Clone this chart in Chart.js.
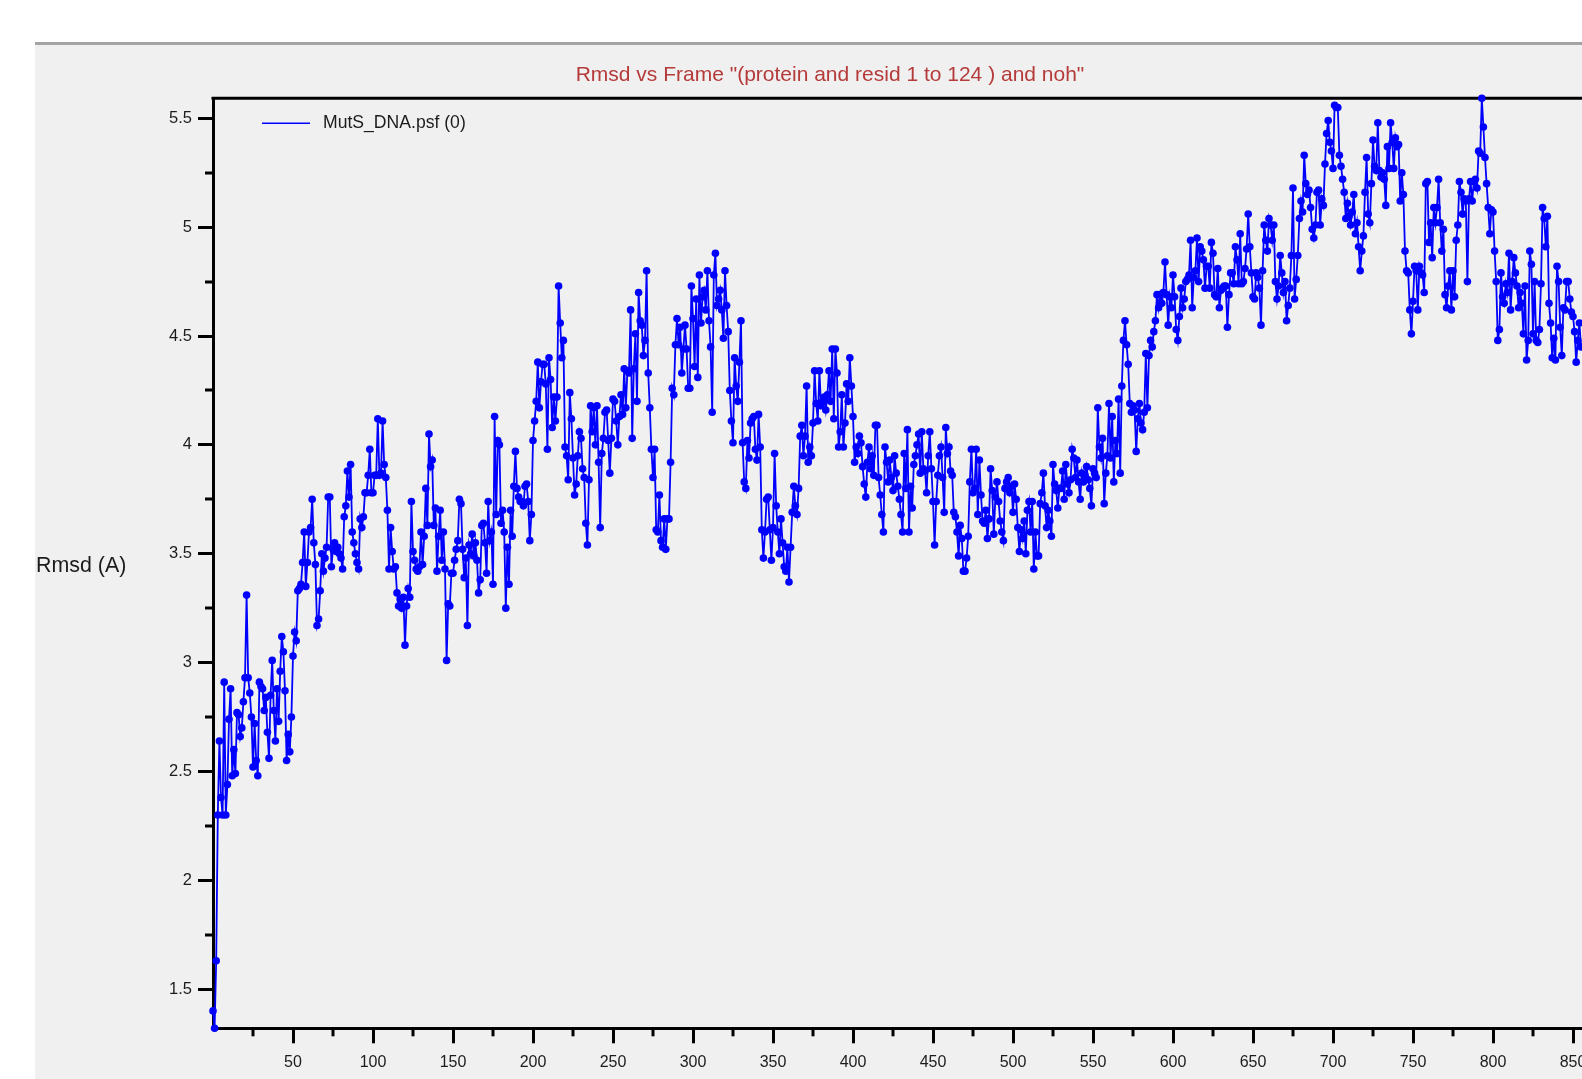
<!DOCTYPE html>
<html>
<head>
<meta charset="utf-8">
<script src="https://cdn.jsdelivr.net/npm/chart.js@4.4.1/dist/chart.umd.min.js"></script>
<style>
  html, body { margin: 0; padding: 0; background: #ffffff; overflow: hidden; width: 1582px; height: 1079px; }
  #rule { position: absolute; left: 35px; top: 42px; width: 1600px; height: 3px; background: #a4a4a4; }
  #panel { position: absolute; left: 35px; top: 45px; width: 1590px; height: 1034px; background: #f0f0f0; }
  canvas { display: block; }
</style>
</head>
<body>
<div id="rule"></div>
<div id="panel"><canvas id="rmsdChart" width="1590" height="1034"></canvas></div>
<script>
// RMSD (Angstrom) per trajectory frame, residues 1-124, heavy atoms
const rmsd = [
  1.40, 1.32, 1.63, 2.30, 2.64, 2.38, 2.30, 2.91, 2.30, 2.44,
  2.74, 2.88, 2.48, 2.60, 2.49, 2.77, 2.76, 2.66, 2.70, 2.82,
  2.93, 3.31, 2.93, 2.86, 2.75, 2.52, 2.72, 2.55, 2.48, 2.91,
  2.89, 2.88, 2.78, 2.84, 2.68, 2.56, 2.85, 3.01, 2.78, 2.64,
  2.88, 2.73, 2.96, 3.12, 3.05, 2.87, 2.55, 2.67, 2.59, 2.75,
  3.03, 3.14, 3.10, 3.33, 3.34, 3.36, 3.46, 3.60, 3.35, 3.46,
  3.60, 3.62, 3.75, 3.55, 3.45, 3.17, 3.20, 3.33, 3.50, 3.42,
  3.48, 3.53, 3.76, 3.76, 3.44, 3.52, 3.55, 3.51, 3.53, 3.50,
  3.48, 3.43, 3.67, 3.72, 3.88, 3.76, 3.91, 3.60, 3.55, 3.50,
  3.46, 3.43, 3.66, 3.62, 3.67, 3.78, 3.78, 3.86, 3.98, 3.78,
  3.78, 3.86, 3.86, 4.12, 3.86, 3.87, 4.11, 3.91, 3.85, 3.70,
  3.43, 3.62, 3.51, 3.43, 3.44, 3.32, 3.26, 3.29, 3.25, 3.30,
  3.08, 3.26, 3.34, 3.30, 3.74, 3.51, 3.47, 3.43, 3.42, 3.44,
  3.60, 3.45, 3.58, 3.80, 3.63, 4.05, 3.90, 3.93, 3.63, 3.71,
  3.42, 3.58, 3.70, 3.47, 3.60, 3.43, 3.01, 3.27, 3.26, 3.41,
  3.41, 3.47, 3.52, 3.56, 3.75, 3.73, 3.52, 3.39, 3.48, 3.17,
  3.54, 3.50, 3.59, 3.49, 3.55, 3.47, 3.32, 3.38, 3.63, 3.64,
  3.55, 3.41, 3.74, 3.56, 3.60, 3.36, 4.13, 3.68, 4.02, 4.00,
  3.64, 3.70, 3.60, 3.25, 3.53, 3.36, 3.70, 3.58, 3.81, 3.97,
  3.80, 3.76, 3.74, 3.74, 3.72, 3.81, 3.82, 3.74, 3.56, 3.68,
  4.02, 4.11, 4.20, 4.38, 4.17, 4.29, 4.37, 4.37, 4.28, 3.98,
  4.40, 4.30, 4.08, 4.22, 4.11, 4.22, 4.73, 4.56, 4.40, 4.48,
  3.99, 3.95, 3.84, 4.24, 4.12, 3.94, 3.77, 3.82, 3.95, 4.06,
  4.03, 3.89, 3.85, 3.64, 3.54, 3.84, 4.18, 4.06, 4.17, 4.00,
  4.18, 3.92, 3.62, 3.96, 4.03, 4.15, 4.16, 4.02, 3.87, 4.03,
  4.21, 4.20, 4.11, 4.00, 4.13, 4.23, 4.14, 4.35, 4.17, 4.34,
  4.33, 4.62, 4.03, 4.35, 4.51, 4.20, 4.70, 4.57, 4.55, 4.41,
  4.48, 4.80, 4.33, 4.17, 3.98, 3.85, 3.98, 3.61, 3.60, 3.77,
  3.56, 3.53, 3.66, 3.52, 3.66, 3.66, 3.92, 4.26, 4.23, 4.46,
  4.58, 4.46, 4.54, 4.33, 4.44, 4.55, 4.44, 4.26, 4.26, 4.73,
  4.58, 4.36, 4.67, 4.31, 4.78, 4.56, 4.68, 4.71, 4.62, 4.80,
  4.57, 4.45, 4.15, 4.78, 4.88, 4.64, 4.67, 4.71, 4.62, 4.49,
  4.80, 4.64, 4.52, 4.25, 4.11, 4.01, 4.40, 4.27, 4.20, 4.38,
  4.57, 4.01, 3.83, 3.80, 4.02, 3.94, 4.10, 4.12, 4.13, 3.98,
  3.93, 4.14, 3.99, 3.61, 3.48, 3.60, 3.75, 3.76, 3.61, 3.47,
  3.62, 3.96, 3.72, 3.60, 3.50, 3.66, 3.55, 3.44, 3.42, 3.53,
  3.37, 3.53, 3.69, 3.81, 3.72, 3.68, 3.80, 4.04, 4.09, 3.95,
  4.04, 4.27, 3.92, 3.99, 3.95, 4.10, 4.34, 4.19, 4.11, 4.34,
  4.18, 4.20, 4.22, 4.16, 4.23, 4.34, 4.20, 4.44, 4.12, 4.44,
  4.33, 3.99, 4.06, 4.23, 3.99, 4.10, 4.28, 4.20, 4.40, 4.27,
  4.13, 3.92, 3.99, 3.96, 4.04, 4.01, 3.90, 3.82, 3.76, 3.92,
  3.99, 3.89, 3.95, 3.86, 4.09, 4.09, 3.85, 3.77, 3.68, 3.60,
  3.99, 3.92, 3.83, 3.93, 3.85, 3.79, 3.95, 3.87, 3.81, 3.75,
  3.68, 3.60, 3.96, 3.80, 4.07, 3.60, 3.81, 3.71, 3.91, 3.95,
  4.00, 4.05, 3.87, 4.06, 3.89, 3.88, 3.78, 3.95, 4.06, 3.89,
  3.74, 3.54, 3.74, 3.86, 3.95, 3.99, 3.85, 3.69, 4.08, 3.96,
  3.99, 3.88, 3.86, 3.69, 3.67, 3.60, 3.49, 3.63, 3.57, 3.42,
  3.42, 3.48, 3.58, 3.83, 3.98, 3.78, 3.80, 3.98, 3.68, 3.93,
  3.77, 3.65, 3.64, 3.70, 3.57, 3.66, 3.89, 3.79, 3.59, 3.76,
  3.83, 3.74, 3.65, 3.60, 3.56, 3.80, 3.83, 3.85, 3.78, 3.81,
  3.69, 3.82, 3.75, 3.62, 3.51, 3.61, 3.57, 3.65, 3.50, 3.70,
  3.74, 3.60, 3.74, 3.43, 3.60, 3.49, 3.49, 3.73, 3.78, 3.87,
  3.72, 3.62, 3.70, 3.65, 3.58, 3.91, 3.82, 3.79, 3.71, 3.80,
  3.80, 3.88, 3.75, 3.91, 3.82, 3.78, 3.84, 3.98, 3.94, 3.85,
  3.93, 3.83, 3.75, 3.87, 3.83, 3.86, 3.90, 3.84, 3.80, 3.72,
  3.89, 3.87, 3.85, 4.17, 3.99, 3.94, 4.03, 3.73, 3.87, 3.95,
  4.19, 3.94, 4.13, 3.83, 4.02, 3.96, 4.21, 3.87, 4.27, 4.48,
  4.57, 4.46, 4.37, 4.19, 4.15, 4.18, 4.16, 3.97, 4.12, 4.19,
  4.10, 4.07, 4.15, 4.42, 4.17, 4.41, 4.48, 4.45, 4.52, 4.57,
  4.69, 4.63, 4.69, 4.65, 4.70, 4.84, 4.69, 4.55, 4.68, 4.63,
  4.78, 4.68, 4.53, 4.48, 4.59, 4.72, 4.63, 4.67, 4.75, 4.76,
  4.78, 4.94, 4.63, 4.77, 4.80, 4.95, 4.75, 4.91, 4.89, 4.85,
  4.72, 4.82, 4.82, 4.72, 4.93, 4.88, 4.69, 4.68, 4.81, 4.63,
  4.71, 4.72, 4.73, 4.73, 4.54, 4.69, 4.79, 4.79, 4.74, 4.91,
  4.85, 4.74, 4.97, 4.74, 4.75, 4.81, 4.90, 5.06, 4.91, 4.79,
  4.68, 4.67, 4.79, 4.77, 4.72, 4.55, 4.80, 5.01, 4.94, 4.89,
  5.04, 5.01, 4.94, 5.01, 4.75, 4.67, 4.73, 4.87, 4.79, 4.70,
  4.75, 4.57, 4.64, 4.72, 4.87, 5.18, 4.67, 4.76, 4.87, 5.04,
  5.12, 5.07, 5.33, 5.20, 5.15, 5.17, 5.09, 4.99, 4.95, 5.01,
  5.16, 5.17, 5.01, 5.13, 5.10, 5.29, 5.43, 5.49, 5.39, 5.35,
  5.27, 5.56, 5.55, 5.55, 5.33, 5.28, 5.22, 5.16, 5.04, 5.11,
  5.05, 5.01, 5.07, 5.15, 4.97, 5.02, 4.91, 4.80, 4.89, 4.96,
  5.16, 5.32, 5.06, 5.02, 5.20, 5.40, 5.28, 5.26, 5.48, 5.26,
  5.23, 5.25, 5.22, 5.10, 5.37, 5.27, 5.48, 5.39, 5.27, 5.41,
  5.37, 5.38, 5.12, 5.25, 5.15, 4.89, 4.80, 4.79, 4.62, 4.51,
  4.66, 4.82, 4.80, 4.62, 4.82, 4.79, 4.78, 4.70, 5.20, 5.21,
  4.93, 5.02, 4.86, 5.09, 5.02, 5.09, 5.22, 5.02, 4.89, 4.99,
  4.69, 4.63, 4.73, 4.80, 4.62, 4.80, 4.68, 4.94, 5.01, 5.21,
  5.16, 5.06, 5.13, 5.12, 4.75, 5.13, 5.21, 5.12, 5.21, 5.22,
  5.18, 5.35, 5.34, 5.592, 5.46, 5.32, 5.20, 5.09, 4.97, 5.08,
  5.07, 4.89, 4.75, 4.48, 4.53, 4.79, 4.68, 4.65, 4.74, 4.70,
  4.88, 4.62, 4.75, 4.86, 4.79, 4.73, 4.63, 4.70, 4.65, 4.51,
  4.73, 4.39, 4.48, 4.89, 4.83, 4.51, 4.75, 4.48, 4.47, 4.53,
  4.74, 5.09, 5.04, 4.91, 5.05, 4.65, 4.56, 4.40, 4.49, 4.39,
  4.82, 4.75, 4.54, 4.41, 4.63, 4.62, 4.75, 4.75, 4.67, 4.61,
  4.59, 4.52, 4.38, 4.48, 4.56, 4.45
];
const frames = rmsd.map((_, i) => i);

const seriesLabel = 'MutS_DNA.psf (0)';
const chartTitle = 'Rmsd vs Frame "(protein and resid 1 to 124 ) and noh"';
const yAxisTitle = 'Rmsd (A)';

const xMajorStep = 50;
const yMajorStep = 0.5;
const frameMax = 880;

const FONT = '"Liberation Sans", Arial, sans-serif';
const INK = '#1c1c1c';
const LINE_BLUE = '#0000ff';
const MAJOR_LEN = 15, MINOR_LEN = 7, AXIS_W = 3;

// minor ticks halfway between labelled ticks, plus the top frame line
const frameAndMinorTicks = {
  id: 'frameAndMinorTicks',
  beforeDatasetsDraw(chart) {
    const { ctx, chartArea, scales: { x, y } } = chart;
    ctx.save();
    ctx.strokeStyle = '#000';
    ctx.lineWidth = AXIS_W;
    ctx.lineCap = 'butt';
    ctx.beginPath();
    ctx.moveTo(chartArea.left - AXIS_W / 2, chartArea.top);
    ctx.lineTo(chartArea.right, chartArea.top);
    ctx.stroke();

    for (let v = xMajorStep / 2; v < x.max; v += xMajorStep) {
      const px = Math.round(x.getPixelForValue(v));
      ctx.beginPath();
      ctx.moveTo(px, chartArea.bottom);
      ctx.lineTo(px, chartArea.bottom + MINOR_LEN + 1);
      ctx.stroke();
    }
    const yStart = Math.ceil((y.min - yMajorStep / 2) / yMajorStep) * yMajorStep + yMajorStep / 2;
    for (let v = yStart; v < y.max; v += yMajorStep) {
      if (v <= y.min) continue;
      const py = Math.round(y.getPixelForValue(v));
      ctx.beginPath();
      ctx.moveTo(chartArea.left, py);
      ctx.lineTo(chartArea.left - MINOR_LEN - 1, py);
      ctx.stroke();
    }
    ctx.restore();
  }
};

// series key in the upper-left corner of the plot, and the horizontal y title
const insideKeyAndYTitle = {
  id: 'insideKeyAndYTitle',
  afterDraw(chart) {
    const { ctx, chartArea } = chart;
    const ds = chart.data.datasets[0];
    ctx.save();
    const ky = chartArea.top + 25;
    ctx.strokeStyle = ds.borderColor;
    ctx.lineWidth = 1.5;
    ctx.beginPath();
    ctx.moveTo(chartArea.left + 49, ky);
    ctx.lineTo(chartArea.left + 97, ky);
    ctx.stroke();
    ctx.fillStyle = INK;
    ctx.font = '17.6px ' + FONT;
    ctx.textAlign = 'left';
    ctx.textBaseline = 'middle';
    ctx.fillText(ds.label, chartArea.left + 110, ky);

    ctx.font = '21.4px ' + FONT;
    ctx.fillText(yAxisTitle, 1, 521);
    ctx.restore();
  }
};

const yMin = Math.min(...rmsd);
const yMax = Math.max(...rmsd);

new Chart(document.getElementById('rmsdChart'), {
  type: 'line',
  data: {
    datasets: [{
      label: seriesLabel,
      data: frames.map((f, i) => ({ x: f, y: rmsd[i] })),
      borderColor: LINE_BLUE,
      backgroundColor: LINE_BLUE,
      borderWidth: 1.8,
      pointRadius: 3.8,
      pointBorderWidth: 0,
      pointBackgroundColor: LINE_BLUE,
      tension: 0,
      clip: false
    }]
  },
  options: {
    responsive: false,
    animation: false,
    devicePixelRatio: 1,
    layout: { padding: 0 },
    plugins: {
      legend: { display: false },
      tooltip: { enabled: false },
      title: {
        display: true,
        text: chartTitle,
        color: '#b53a3a',
        font: { family: FONT, size: 21, weight: 'normal', lineHeight: 1.2 },
        padding: { top: 18, bottom: 10.1 }
      }
    },
    scales: {
      x: {
        type: 'linear',
        min: 0,
        max: frameMax,
        afterFit(scale) { scale.height = 50.7; },
        border: { display: true, color: '#000', width: AXIS_W },
        grid: {
          display: true,
          drawOnChartArea: false,
          drawTicks: true,
          tickLength: MAJOR_LEN,
          tickWidth: AXIS_W,
          tickColor: (c) => (c.tick && c.tick.value === 0 ? 'rgba(0,0,0,0)' : '#000')
        },
        ticks: {
          stepSize: xMajorStep,
          includeBounds: false,
          autoSkip: false,
          maxRotation: 0,
          padding: 10,
          color: INK,
          font: { family: FONT, size: 16 },
          callback: (v) => (v === 0 ? '' : String(v))
        }
      },
      y: {
        type: 'linear',
        min: yMin,
        max: yMax,
        afterFit(scale) { scale.width = 178; },
        border: { display: true, color: '#000', width: AXIS_W },
        grid: {
          display: true,
          drawOnChartArea: false,
          drawTicks: true,
          tickLength: MAJOR_LEN,
          tickWidth: AXIS_W,
          tickColor: '#000'
        },
        ticks: {
          stepSize: yMajorStep,
          includeBounds: false,
          autoSkip: false,
          padding: 6,
          color: INK,
          font: { family: FONT, size: 16.5 },
          callback: (v) => String(+Number(v).toFixed(2))
        }
      }
    }
  },
  plugins: [frameAndMinorTicks, insideKeyAndYTitle]
});
</script>
</body>
</html>
